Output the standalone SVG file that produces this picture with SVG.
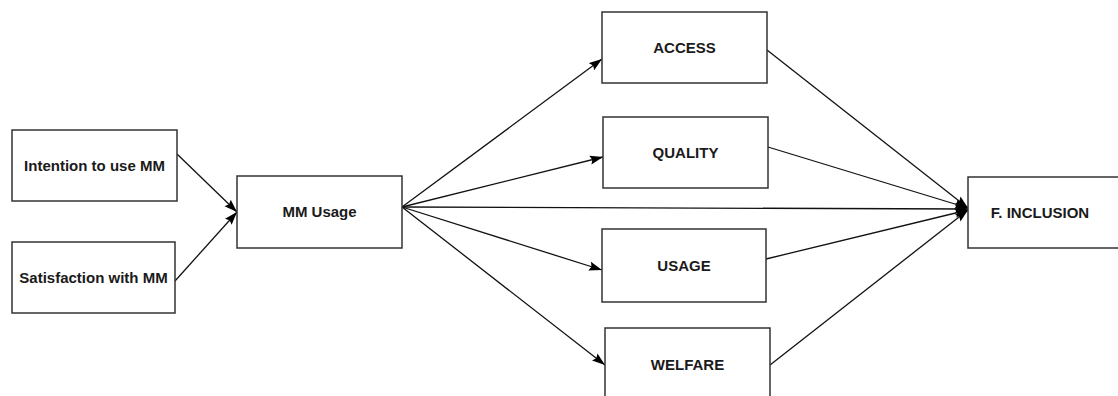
<svg xmlns="http://www.w3.org/2000/svg" width="1118" height="396" viewBox="0 0 1118 396">
<defs>
<marker id="ah" markerWidth="14" markerHeight="10" refX="13" refY="5" orient="auto" markerUnits="userSpaceOnUse">
<path d="M0,0.5 L13,5 L0,9.5 L2,5 Z" fill="#000"/>
</marker>
<style>
.box{fill:#fff;stroke:#333;stroke-width:1.5}
.lbl{font-family:"Liberation Sans",Arial,sans-serif;font-size:15px;font-weight:bold;fill:#1a1a1a;text-anchor:middle;dominant-baseline:central}
.ed{stroke:#111;stroke-width:1.3;fill:none;marker-end:url(#ah)}
</style>
</defs>
<rect width="1118" height="396" fill="#fff"/>
<g id="connectors">
<line class="ed" x1="177" y1="154" x2="237" y2="212"/>
<line class="ed" x1="175" y1="281" x2="237" y2="212"/>
<line class="ed" x1="402" y1="207" x2="602" y2="59"/>
<line class="ed" x1="402" y1="207" x2="603" y2="157"/>
<line class="ed" x1="402" y1="207" x2="602" y2="270"/>
<line class="ed" x1="402" y1="207" x2="605" y2="365"/>
<line class="ed" x1="402" y1="207" x2="968" y2="209"/>
<line class="ed" x1="767" y1="50" x2="968" y2="208"/>
<line class="ed" x1="768" y1="147" x2="968" y2="208"/>
<line class="ed" x1="766" y1="259" x2="968" y2="210"/>
<line class="ed" x1="770" y1="365" x2="968" y2="210"/>
</g>
<g id="intention"><rect class="box" x="12" y="130" width="165" height="71"/><text class="lbl" x="94.5" y="165">Intention to use MM</text></g>
<g id="satisfaction"><rect class="box" x="12" y="242" width="163" height="71"/><text class="lbl" x="93.5" y="277">Satisfaction with MM</text></g>
<g id="mmusage"><rect class="box" x="237" y="176" width="165" height="72"/><text class="lbl" x="319.5" y="211">MM Usage</text></g>
<g id="access"><rect class="box" x="602" y="12" width="165" height="71"/><text class="lbl" x="684.5" y="47">ACCESS</text></g>
<g id="quality"><rect class="box" x="603" y="117" width="165" height="71"/><text class="lbl" x="685.5" y="152">QUALITY</text></g>
<g id="usage"><rect class="box" x="602" y="229" width="164" height="73"/><text class="lbl" x="684" y="265">USAGE</text></g>
<g id="welfare"><rect class="box" x="605" y="328" width="165" height="80"/><text class="lbl" x="687.5" y="364">WELFARE</text></g>
<g id="finclusion"><rect class="box" x="968" y="177" width="160" height="71"/><text class="lbl" x="1040" y="212">F. INCLUSION</text></g>
</svg>
